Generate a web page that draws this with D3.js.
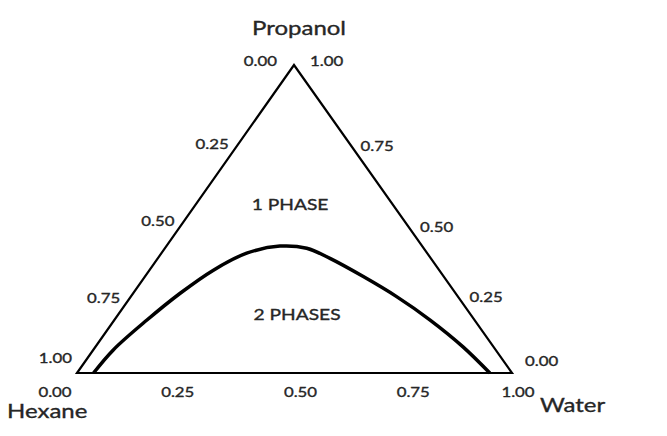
<!DOCTYPE html>
<html>
<head>
<meta charset="utf-8">
<script src="https://cdn.jsdelivr.net/npm/d3@7"></script>
<style>
  body { margin: 0; background: #fff; }
  svg text { font-family: Lato, "Open Sans", sans-serif; fill: #262626; stroke: #262626; stroke-width: 0.35px; }
  .tick-label { font-size: 14px; }
  .vertex-label { font-size: 20px; }
  .region-label { font-size: 16px; }
</style>
</head>
<body>
<div id="chart"></div>
<script>
// tick values shared by all three sides
var tickValues = [0, 0.25, 0.5, 0.75, 1];

// binodal curve: water and propanol mole fractions
var curveWater    = [0.038, 0.046, 0.075, 0.108, 0.147, 0.196, 0.261, 0.326, 0.396, 0.502, 0.611, 0.726, 0.845, 0.949];
var curvePropanol = [0.000, 0.075, 0.172, 0.259, 0.334, 0.389, 0.412, 0.405, 0.372, 0.313, 0.248, 0.172, 0.085, 0.000];

// corner names
var vertexNames = ['Hexane', 'Water', 'Propanol'];

// region labels and where they sit (water, propanol)
var regionNames    = ['1 PHASE', '2 PHASES'];
var regionWater    = [0.226, 0.42];
var regionPropanol = [0.529, 0.172];

var width = 667, height = 436;
var stretch = 1.2;   // the original picture is stretched sideways, text too

var svg = d3.select('#chart').append('svg')
    .attr('width', width)
    .attr('height', height);

// base goes hexane -> water, height goes with propanol
var xBase = d3.scaleLinear().domain([0, 1]).range([77, 512]);
var xLean = d3.scaleLinear().domain([0, 1]).range([0, 217]);   // apex sits off-centre
var yProp = d3.scaleLinear().domain([0, 1]).range([373, 65]);

function proj(water, propanol) {
    return [xBase(water) + xLean(propanol), yProp(propanol)];
}

var corners = [proj(0, 0), proj(1, 0), proj(0, 1)];

svg.append('path')
    .attr('d', 'M' + corners.join('L') + 'Z')
    .attr('fill', 'none')
    .attr('stroke', '#000')
    .attr('stroke-width', 2.2)
    .attr('stroke-linejoin', 'miter');

// binodal
var curvePts = curveWater.map(function (w, i) { return proj(w, curvePropanol[i]); });
svg.append('path')
    .attr('d', d3.line().curve(d3.curveCatmullRom.alpha(0.5))(curvePts))
    .attr('fill', 'none')
    .attr('stroke', '#000')
    .attr('stroke-width', 3.5);

var fmt = d3.format('.2f');
var labels = svg.append('g');

function addText(cls, x, y, anchor, str) {
    return labels.append('text').attr('class', cls)
        .attr('transform', 'translate(' + x + ',' + y + ') scale(' + stretch + ',1)')
        .attr('text-anchor', anchor)
        .text(str);
}

// left side: hexane fraction, 0 at the apex, 1 at the hexane corner
tickValues.forEach(function (v) {
    var p = proj(0, 1 - v), dx = -11, dy = 7;
    if (v === 0) { dx = -17; dy = 1; }
    if (v === 1) { dx = -5; dy = -10; }
    addText('tick-label', p[0] + dx, p[1] + dy, 'end', fmt(v));
});

// right side: propanol fraction
var rightNudge = { 0.5: [5, 4], 0.25: [0, -3] };
tickValues.forEach(function (v) {
    var p = proj(1 - v, v), dx = 12, dy = 9;
    if (v === 1) { dx = 16; dy = 1; }
    if (v === 0) { dx = 13; dy = -7; }
    if (rightNudge[v]) { dx += rightNudge[v][0]; dy += rightNudge[v][1]; }
    addText('tick-label', p[0] + dx, p[1] + dy, 'start', fmt(v));
});

// bottom: water fraction
var bottomNudge = { 0: -22, 0.25: -8, 0.5: 6, 0.75: 10, 1: 6 };
tickValues.forEach(function (v) {
    var p = proj(v, 0);
    addText('tick-label', p[0] + bottomNudge[v], p[1] + 24, 'middle', fmt(v));
});

// corner names
addText('vertex-label', corners[0][0] - 70, corners[0][1] + 45, 'start', vertexNames[0]);
addText('vertex-label', corners[1][0] + 28, corners[1][1] + 39, 'start', vertexNames[1]);
addText('vertex-label', corners[2][0] + 5, corners[2][1] - 30, 'middle', vertexNames[2]);

regionNames.forEach(function (name, i) {
    var p = proj(regionWater[i], regionPropanol[i]);
    addText('region-label', p[0], p[1], 'middle', name);
});
</script>
</body>
</html>
